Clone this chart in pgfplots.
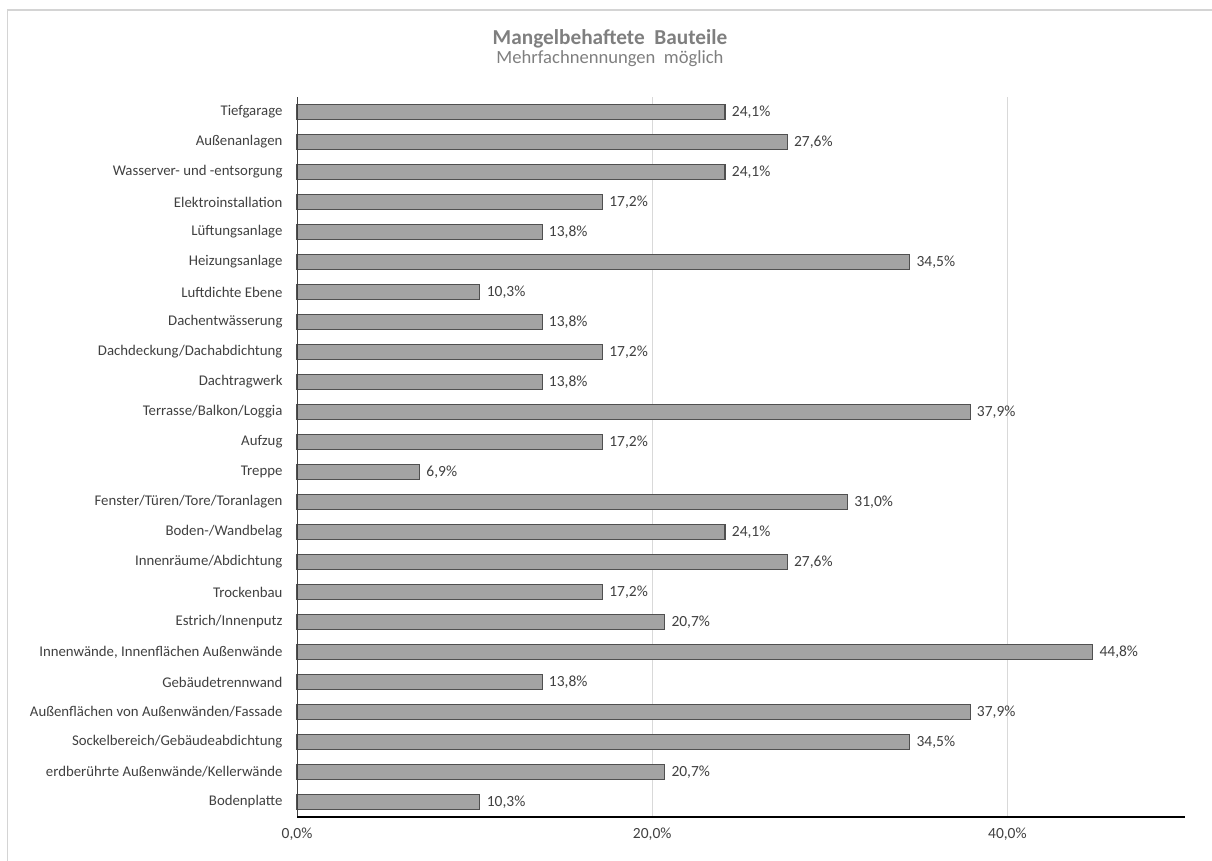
\documentclass[border=0pt]{standalone}
\usepackage{fontspec}
\setmainfont{Carlito}
\usepackage{pgfplots}
\pgfplotsset{compat=1.18}
\usepackage{pgfplotstable}

\definecolor{bartxt}{HTML}{404040}
\definecolor{barfill}{HTML}{A3A3A3}
\definecolor{baredge}{HTML}{505050}
\definecolor{gridc}{HTML}{D9D9D9}
\definecolor{titlec}{HTML}{7F7F7F}
\definecolor{framec}{HTML}{D4D4D4}

% Anteil der Nennungen je Bauteil (in %), von unten nach oben
\pgfplotstableread{
idx val
0  10.3
1  20.7
2  34.5
3  37.9
4  13.8
5  44.8
6  20.7
7  17.2
8  27.6
9  24.1
10 31.0
11 6.9
12 17.2
13 37.9
14 13.8
15 17.2
16 13.8
17 10.3
18 34.5
19 13.8
20 17.2
21 24.1
22 27.6
23 24.1
}\bauteile

\begin{document}
\begin{tikzpicture}[x=1pt,y=1pt]
\useasboundingbox (0,0) rectangle (1212,861);
% Rahmen des Diagrammbereichs
\draw[framec, line width=1.5pt] (7.5,-20) -- (7.5,851) -- (1240,851);

\node[font=\fontsize{21.3}{24}\selectfont\bfseries, text=titlec] at (610,822) {Mangelbehaftete\ \ Bauteile};
\node[font=\fontsize{18.6}{21}\selectfont, text=titlec] at (610,802) {Mehrfachnennungen\ \ möglich};

\begin{axis}[
  at={(297pt,44pt)}, anchor=south west,
  scale only axis, width=888pt, height=720pt,
  xmin=0, xmax=50, ymin=-0.5, ymax=23.5,
  xbar, bar width=15.5pt,
  axis line style={draw=none},
  xtick={0,20,40},
  xmajorgrids, grid style={gridc, line width=1pt},
  major tick length=0pt,
  /pgf/number format/assume math mode=true,
  xticklabel={\pgfmathprintnumber[fixed,fixed zerofill,precision=1,use comma]{\tick}\%},
  xticklabel style={font=\fontsize{15.5}{18}\selectfont, text=bartxt, yshift=-7pt},
  ytick={0,...,23},
  yticklabels={
    Bodenplatte,
    erdberührte Außenwände/Kellerwände,
    Sockelbereich/Gebäudeabdichtung,
    Außenflächen von Außenwänden/Fassade,
    Gebäudetrennwand,
    {Innenwände, Innenflächen Außenwände},
    Estrich/Innenputz,
    Trockenbau,
    Innenräume/Abdichtung,
    Boden-/Wandbelag,
    Fenster/Türen/Tore/Toranlagen,
    Treppe,
    Aufzug,
    Terrasse/Balkon/Loggia,
    Dachtragwerk,
    Dachdeckung/Dachabdichtung,
    Dachentwässerung,
    Luftdichte Ebene,
    Heizungsanlage,
    Lüftungsanlage,
    Elektroinstallation,
    Wasserver- und -entsorgung,
    Außenanlagen,
    Tiefgarage},
  yticklabel style={font=\fontsize{14.8}{17}\selectfont, text=bartxt, xshift=-11pt},
  nodes near coords={\pgfmathprintnumber[fixed,fixed zerofill,precision=1,use comma]{\pgfplotspointmeta}\%},
  nodes near coords style={font=\fontsize{15.5}{18}\selectfont, text=bartxt, anchor=west, xshift=3pt},
  clip=false,
]
\addplot[fill=barfill, draw=baredge, line width=1.1pt] table[x=val, y=idx] {\bauteile};
% Achsenlinien
\draw[bartxt, line width=1pt] (axis cs:0,-0.5) -- (axis cs:0,23.5);
\draw[black, line width=2pt] (axis cs:0,-0.5) -- (axis cs:50,-0.5);
\end{axis}
\end{tikzpicture}
\end{document}
